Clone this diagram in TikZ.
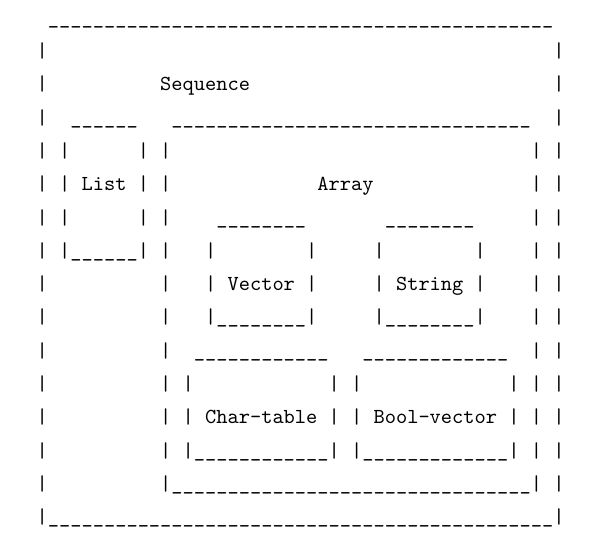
\documentclass[tikz,border=0pt]{standalone}
\usepackage{fontspec}
\newfontfamily\asciitt{lmmono10-regular.otf}
\newcommand\U[1]{\foreach\k in {1,...,#1}{\_}}
\newcommand\SP[1]{\foreach\k in {1,...,#1}{\ }}
\tikzset{ln/.style={anchor=base west, inner sep=0pt, outer sep=0pt,
  font=\asciitt\fontsize{21.39}{25}\selectfont}}
\begin{document}
\begin{tikzpicture}
\fill[white] (0,0) rectangle (611pt,-546pt);
\useasboundingbox (0,0) rectangle (611pt,-546pt);
\node[ln] (r0)  at (36.7pt,-24.2pt)  {\SP{1}\U{45}};
\node[ln] (r1)  at (36.7pt,-57.5pt)  {|\SP{45}|};
\node[ln] (r2)  at (36.7pt,-90.8pt)  {|\SP{10}Sequence\SP{27}|};
\node[ln] (r3)  at (36.7pt,-124.1pt) {|\SP{2}\U{6}\SP{3}\U{32}\SP{2}|};
\node[ln] (r4)  at (36.7pt,-157.4pt) {|\SP{1}|\SP{6}|\SP{1}|\SP{32}|\SP{1}|};
\node[ln] (r5)  at (36.7pt,-190.7pt) {|\SP{1}|\SP{1}List\SP{1}|\SP{1}|\SP{13}Array\SP{14}|\SP{1}|};
\node[ln] (r6)  at (36.7pt,-224.0pt) {|\SP{1}|\SP{6}|\SP{1}|\SP{4}\U{8}\SP{7}\U{8}\SP{5}|\SP{1}|};
\node[ln] (r7)  at (36.7pt,-257.3pt) {|\SP{1}|\U{6}|\SP{1}|\SP{3}|\SP{8}|\SP{5}|\SP{8}|\SP{4}|\SP{1}|};
\node[ln] (r8)  at (36.7pt,-290.6pt) {|\SP{10}|\SP{3}|\SP{1}Vector\SP{1}|\SP{5}|\SP{1}String\SP{1}|\SP{4}|\SP{1}|};
\node[ln] (r9)  at (36.7pt,-323.9pt) {|\SP{10}|\SP{3}|\U{8}|\SP{5}|\U{8}|\SP{4}|\SP{1}|};
\node[ln] (r10) at (36.7pt,-357.2pt) {|\SP{10}|\SP{2}\U{12}\SP{3}\U{13}\SP{2}|\SP{1}|};
\node[ln] (r11) at (36.7pt,-390.5pt) {|\SP{10}|\SP{1}|\SP{12}|\SP{1}|\SP{13}|\SP{1}|\SP{1}|};
\node[ln] (r12) at (36.7pt,-423.8pt) {|\SP{10}|\SP{1}|\SP{1}Char-table\SP{1}|\SP{1}|\SP{1}Bool-vector\SP{1}|\SP{1}|\SP{1}|};
\node[ln] (r13) at (36.7pt,-457.1pt) {|\SP{10}|\SP{1}|\U{12}|\SP{1}|\U{13}|\SP{1}|\SP{1}|};
\node[ln] (r14) at (36.7pt,-490.4pt) {|\SP{10}|\U{32}|\SP{1}|};
\node[ln] (r15) at (36.7pt,-523.7pt) {|\U{45}|};
\end{tikzpicture}
\end{document}
